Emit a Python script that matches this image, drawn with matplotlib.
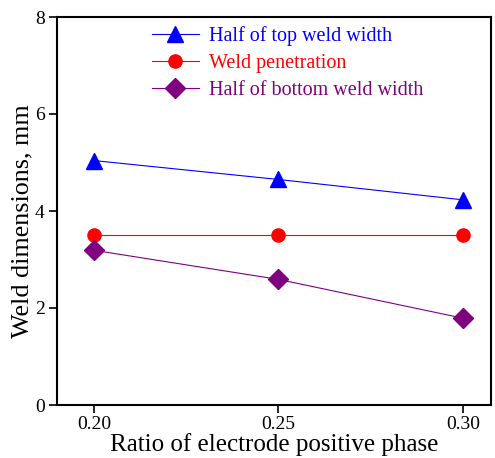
import matplotlib
matplotlib.use("Agg")
import matplotlib.pyplot as plt

ratio = [0.20, 0.25, 0.30]
top_width = [5.04, 4.65, 4.23]
penetration = [3.5, 3.5, 3.5]
bottom_width = [3.19, 2.59, 1.79]
labels = ["Half of top weld width", "Weld penetration", "Half of bottom weld width"]

plt.rcParams['font.family'] = ['Liberation Serif', 'DejaVu Serif']

fig = plt.figure(figsize=(4.95, 4.58), dpi=100)
ax = fig.add_axes([57/495, 53/458, 434/495, 388/458])

ax.plot(ratio, top_width, color='blue', marker='^', ms=12, lw=0.8, label=labels[0])
ax.plot(ratio, penetration, color='red', marker='o', ms=9.5, lw=0.8, label=labels[1])
ax.plot(ratio, bottom_width, color='purple', marker='D', ms=10, lw=0.8, label=labels[2])

ax.set_xlim(0.19, 0.3076)
ax.set_ylim(0, 8)
ax.set_xticks(ratio)
ax.set_xticklabels(["0.20", "0.25", "0.30"])
ax.set_yticks([0, 2, 4, 6, 8])
ax.tick_params(axis='both', direction='out', length=6, width=1.2, labelsize=14)
ax.tick_params(axis='x', pad=2)
ax.tick_params(axis='y', pad=3)
for s in ax.spines.values():
    s.set_linewidth(1.5)
ax.set_xlabel("Ratio of electrode positive phase", fontsize=18, labelpad=0)
ax.set_ylabel("Weld dimensions, mm", fontsize=18.8)
ax.yaxis.set_label_coords(-0.055, 0.474)

ax.legend(loc='upper left', bbox_to_anchor=(0.201, 0.998), frameon=False,
          fontsize=14.5, labelcolor='linecolor', handlelength=2.3,
          handletextpad=0.5, labelspacing=0.4, borderaxespad=0)

fig.savefig("out.png", dpi=100)
